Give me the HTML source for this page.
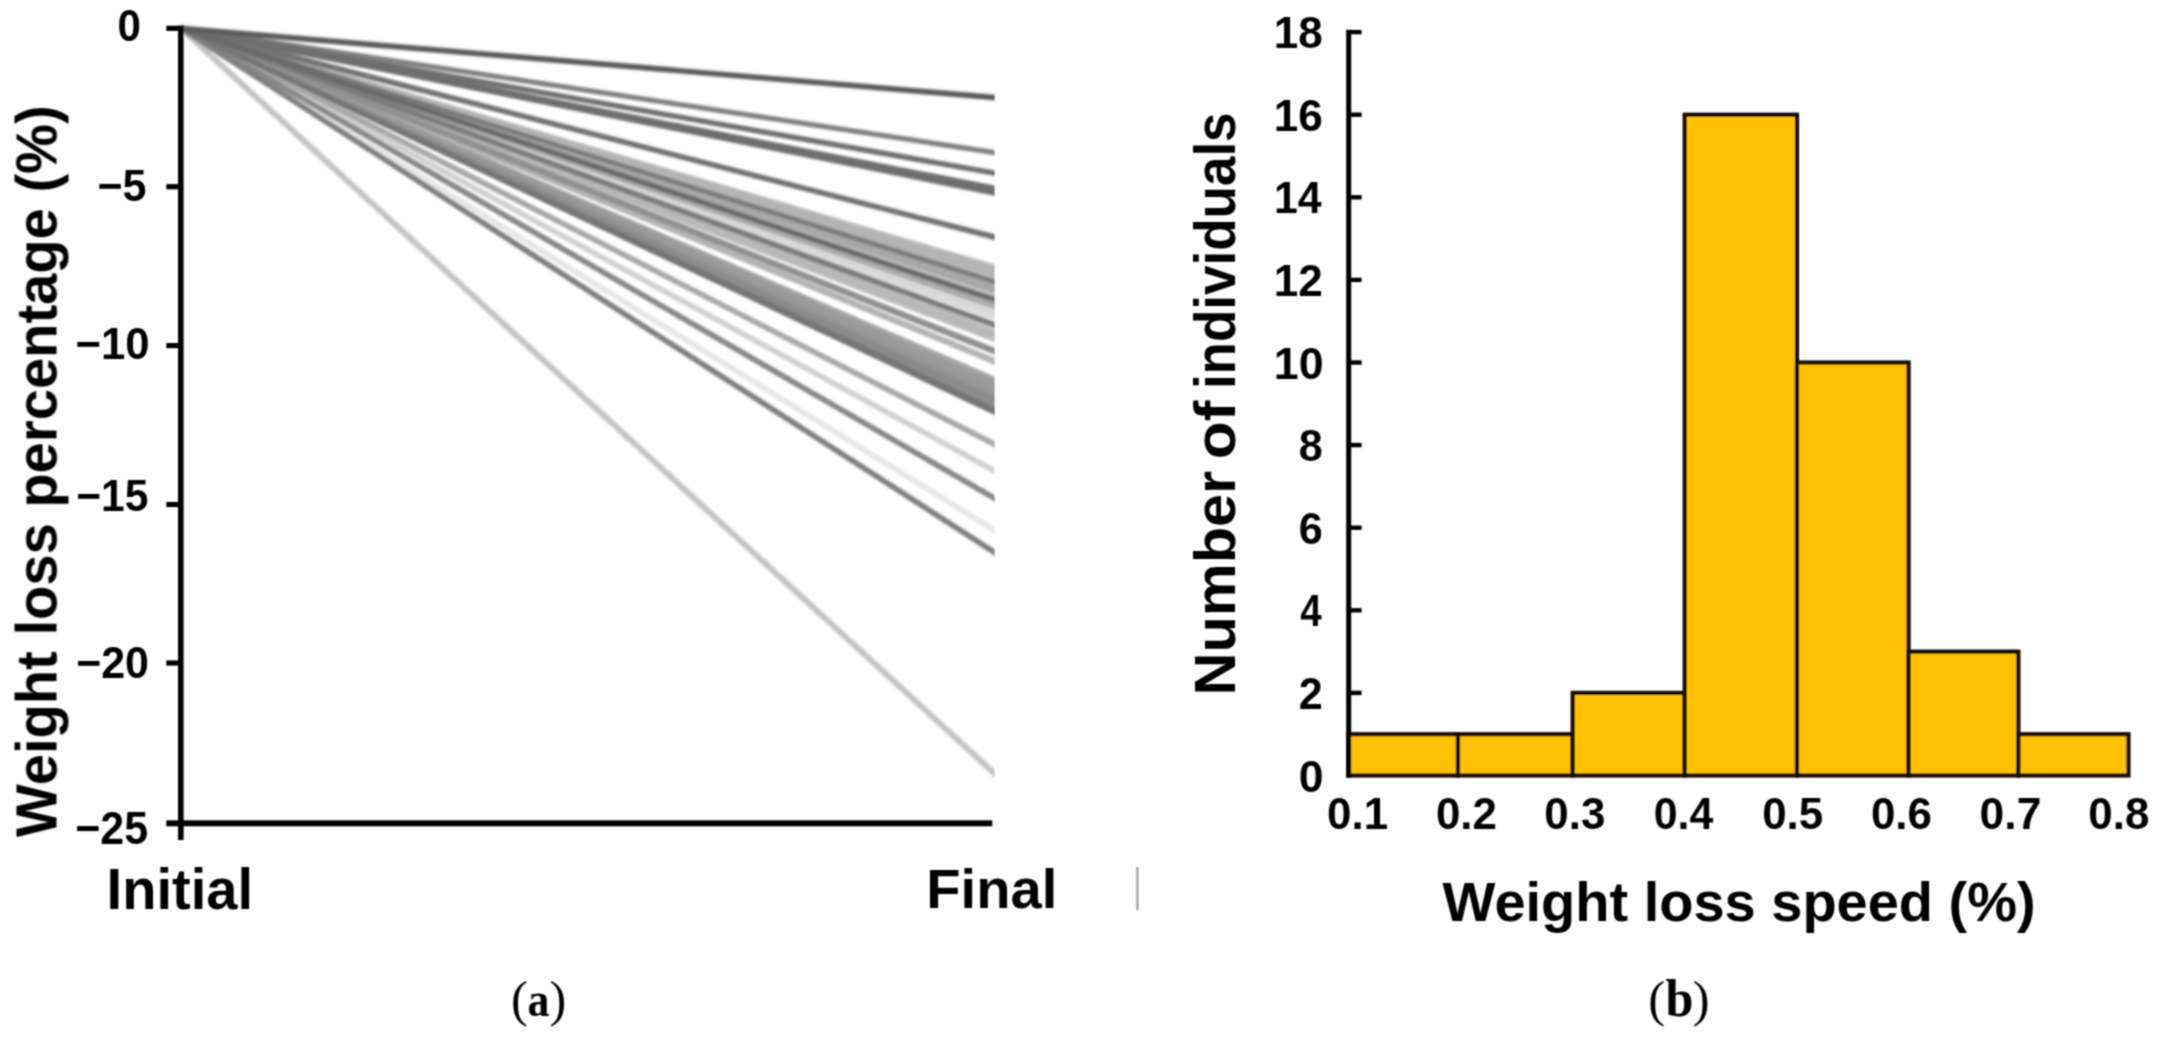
<!DOCTYPE html>
<html lang="en">
<head>
<meta charset="utf-8">
<title>Weight loss figure</title>
<style>
html,body{margin:0;padding:0;background:#fff;}
body{width:2162px;height:1042px;overflow:hidden;}
svg{display:block;}
svg text{font-family:"Liberation Sans",sans-serif;fill:#000;}
svg text.cap{font-family:"Liberation Serif",serif;}
</style>
</head>
<body>
<svg width="2162" height="1042" viewBox="0 0 2162 1042">
<defs><filter id="soft" x="0" y="0" width="2162" height="1042" filterUnits="userSpaceOnUse"><feConvolveMatrix order="3" kernelMatrix="1 2 1 2 4 2 1 2 1" divisor="16" edgeMode="duplicate" preserveAlpha="false"/></filter><filter id="fanblur" x="150" y="0" width="900" height="850" filterUnits="userSpaceOnUse"><feGaussianBlur stdDeviation="1"/></filter></defs>
<rect width="2162" height="1042" fill="#fff"/>
<g filter="url(#soft)">
<defs><clipPath id="fanclip"><rect x="170" y="0" width="824.6" height="900"/></clipPath></defs>
<g id="fan" clip-path="url(#fanclip)" filter="url(#fanblur)">
<line x1="181" y1="28.3" x2="1010" y2="539.87" stroke="#e6e6e6" stroke-width="5.7"/>
<line x1="181" y1="28.3" x2="1010" y2="322.68" stroke="#dcdcdc" stroke-width="6.5"/>
<line x1="181" y1="28.3" x2="1010" y2="317.07" stroke="#d8d8d8" stroke-width="6.5"/>
<line x1="181" y1="28.3" x2="1010" y2="479.2" stroke="#d0d0d0" stroke-width="5.7"/>
<line x1="181" y1="28.3" x2="1010" y2="299.53" stroke="#c4c4c4" stroke-width="4.5"/>
<line x1="181" y1="28.3" x2="1010" y2="787.66" stroke="#c4c4c4" stroke-width="6.1"/>
<line x1="181" y1="28.3" x2="1010" y2="337.47" stroke="#bcbcbc" stroke-width="5.5"/>
<line x1="181" y1="28.3" x2="1010" y2="345.11" stroke="#bcbcbc" stroke-width="5.5"/>
<line x1="181" y1="28.3" x2="1010" y2="271.7" stroke="#b8b8b8" stroke-width="5.5"/>
<line x1="181" y1="28.3" x2="1010" y2="341.55" stroke="#b8b8b8" stroke-width="5.5"/>
<line x1="181" y1="28.3" x2="1010" y2="275.78" stroke="#b4b4b4" stroke-width="5.5"/>
<line x1="181" y1="28.3" x2="1010" y2="280.36" stroke="#b4b4b4" stroke-width="5.5"/>
<line x1="181" y1="28.3" x2="1010" y2="367.55" stroke="#b4b4b4" stroke-width="6.5"/>
<line x1="181" y1="28.3" x2="1010" y2="310.96" stroke="#aaaaaa" stroke-width="6.5"/>
<line x1="181" y1="28.3" x2="1010" y2="290.87" stroke="#a8a8a8" stroke-width="5.5"/>
<line x1="181" y1="28.3" x2="1010" y2="295.46" stroke="#a8a8a8" stroke-width="5.5"/>
<line x1="181" y1="28.3" x2="1010" y2="452.18" stroke="#a8a8a8" stroke-width="5.7"/>
<line x1="181" y1="28.3" x2="1010" y2="386.41" stroke="#a4a4a4" stroke-width="5.7"/>
<line x1="181" y1="28.3" x2="1010" y2="412.41" stroke="#a0a0a0" stroke-width="4.5"/>
<line x1="181" y1="28.3" x2="1010" y2="391" stroke="#9c9c9c" stroke-width="5.7"/>
<line x1="181" y1="28.3" x2="1010" y2="395.59" stroke="#9a9a9a" stroke-width="5.7"/>
<line x1="181" y1="28.3" x2="1010" y2="400.18" stroke="#989898" stroke-width="5.7"/>
<line x1="181" y1="28.3" x2="1010" y2="357.35" stroke="#909090" stroke-width="6.5"/>
<line x1="181" y1="28.3" x2="1010" y2="404.77" stroke="#909090" stroke-width="5.7"/>
<line x1="181" y1="28.3" x2="1010" y2="408.84" stroke="#8a8a8a" stroke-width="5.5"/>
<line x1="181" y1="28.3" x2="1010" y2="507.24" stroke="#888888" stroke-width="5.7"/>
<line x1="181" y1="28.3" x2="1010" y2="154.94" stroke="#808080" stroke-width="5.3"/>
<line x1="181" y1="28.3" x2="1010" y2="562.31" stroke="#808080" stroke-width="5.7"/>
<line x1="181" y1="28.3" x2="1010" y2="330.53" stroke="#7c7c7c" stroke-width="5.9"/>
<line x1="181" y1="28.3" x2="1010" y2="415.98" stroke="#7c7c7c" stroke-width="5.1"/>
<line x1="181" y1="28.3" x2="1010" y2="286.28" stroke="#7a7a7a" stroke-width="4.9"/>
<line x1="181" y1="28.3" x2="1010" y2="419.55" stroke="#747474" stroke-width="5.1"/>
<line x1="181" y1="28.3" x2="1010" y2="241.11" stroke="#727272" stroke-width="5.7"/>
<line x1="181" y1="28.3" x2="1010" y2="175.85" stroke="#707070" stroke-width="5.5"/>
<line x1="181" y1="28.3" x2="1010" y2="196.04" stroke="#707070" stroke-width="5.7"/>
<line x1="181" y1="28.3" x2="1010" y2="191.45" stroke="#6e6e6e" stroke-width="5.7"/>
<line x1="181" y1="28.3" x2="1010" y2="304.84" stroke="#6a6a6a" stroke-width="5.7"/>
<line x1="181" y1="28.3" x2="1010" y2="98.86" stroke="#5c5c5c" stroke-width="5.7"/>
</g>
<g id="left-axes">
<rect x="178" y="25.6" width="5.6" height="814.4" fill="#000"/>
<rect x="166.3" y="820.3" width="826" height="6" fill="#000"/>
<rect x="166.3" y="25.7" width="13" height="5.2" fill="#000"/>
<rect x="166.3" y="184.1" width="13" height="5.2" fill="#000"/>
<rect x="166.3" y="343" width="13" height="5.2" fill="#000"/>
<rect x="166.3" y="501.9" width="13" height="5.2" fill="#000"/>
<rect x="166.3" y="660.4" width="13" height="5.2" fill="#000"/>
</g>
<rect x="1136.2" y="867" width="2.4" height="43" fill="#a4a4a4"/>
<g id="right-chart">
<rect x="1348.5" y="734.2" width="109.5" height="41.3" fill="#ffc000" stroke="#1a1000" stroke-width="4.2"/>
<rect x="1458" y="734.2" width="114.7" height="41.3" fill="#ffc000" stroke="#1a1000" stroke-width="4.2"/>
<rect x="1572.7" y="692.9" width="112" height="82.6" fill="#ffc000" stroke="#1a1000" stroke-width="4.2"/>
<rect x="1684.7" y="114.7" width="112.3" height="660.8" fill="#ffc000" stroke="#1a1000" stroke-width="4.2"/>
<rect x="1797" y="362.5" width="111.6" height="413" fill="#ffc000" stroke="#1a1000" stroke-width="4.2"/>
<rect x="1908.6" y="651.6" width="109.8" height="123.9" fill="#ffc000" stroke="#1a1000" stroke-width="4.2"/>
<rect x="2018.4" y="734.2" width="110.1" height="41.3" fill="#ffc000" stroke="#1a1000" stroke-width="4.2"/>
<rect x="1346.2" y="29.8" width="5" height="748" fill="#000"/>
<rect x="1350" y="690.7" width="11.6" height="4.4" fill="#000"/>
<rect x="1350" y="608.1" width="11.6" height="4.4" fill="#000"/>
<rect x="1350" y="525.5" width="11.6" height="4.4" fill="#000"/>
<rect x="1350" y="442.9" width="11.6" height="4.4" fill="#000"/>
<rect x="1350" y="360.3" width="11.6" height="4.4" fill="#000"/>
<rect x="1350" y="277.7" width="11.6" height="4.4" fill="#000"/>
<rect x="1350" y="195.1" width="11.6" height="4.4" fill="#000"/>
<rect x="1350" y="112.5" width="11.6" height="4.4" fill="#000"/>
<rect x="1350" y="29.9" width="11.6" height="4.4" fill="#000"/>
</g>
<g id="labels">
<text transform="translate(117.48 40.5) scale(0.9464 1)" font-size="44.5" font-weight="bold">0</text>
<text transform="translate(97.45 200.6) scale(0.9681 1)" font-size="44.5" font-weight="bold">−5</text>
<text transform="translate(75.43 358.5) scale(0.9821 1)" font-size="44.5" font-weight="bold">−10</text>
<text transform="translate(76.17 510.8) scale(0.9563 1)" font-size="44.5" font-weight="bold">−15</text>
<text transform="translate(76.16 677.5) scale(0.9655 1)" font-size="44.5" font-weight="bold">−20</text>
<text transform="translate(75.26 844.3) scale(0.9646 1.03)" font-size="44.5" font-weight="bold">−25</text>
<text transform="translate(106.59 909) scale(0.9931 1)" font-size="56.5" font-weight="bold">Initial</text>
<text transform="translate(926.29 908.3) scale(1.0027 1)" font-size="56" font-weight="bold">Final</text>
<text transform="translate(56.5 837.2) rotate(-90) scale(0.9797 1)" font-size="57.3" font-weight="bold">Weight loss percentage (%)</text>
<text transform="translate(1235 695.52) rotate(-90) scale(1.0473 1)" font-size="56.8" font-weight="bold">Number</text>
<text transform="translate(1235 459.24) rotate(-90) scale(1.0926 1)" font-size="56.8" font-weight="bold">of</text>
<text transform="translate(1235 389.11) rotate(-90) scale(0.9329 1)" font-size="56.8" font-weight="bold">individuals</text>
<text transform="translate(1442.6 921) scale(1.0071 1)" font-size="55.6" font-weight="bold">Weight loss speed (%)</text>
<text transform="translate(1298.81 791.5) scale(1.0021 1)" font-size="44.5" font-weight="bold">0</text>
<text transform="translate(1298.85 708.9) scale(0.9708 1)" font-size="44.5" font-weight="bold">2</text>
<text transform="translate(1300.2 626.3) scale(0.8629 1)" font-size="44.5" font-weight="bold">4</text>
<text transform="translate(1298.85 543.7) scale(0.9708 1)" font-size="44.5" font-weight="bold">6</text>
<text transform="translate(1298.85 461.1) scale(0.9708 1)" font-size="44.5" font-weight="bold">8</text>
<text transform="translate(1273.8 378.5) scale(1.0064 1)" font-size="44.5" font-weight="bold">10</text>
<text transform="translate(1273.84 295.9) scale(0.9911 1)" font-size="44.5" font-weight="bold">12</text>
<text transform="translate(1273.93 213.3) scale(0.9617 1)" font-size="44.5" font-weight="bold">14</text>
<text transform="translate(1273.84 130.7) scale(0.9911 1)" font-size="44.5" font-weight="bold">16</text>
<text transform="translate(1273.84 48.1) scale(0.9911 1)" font-size="44.5" font-weight="bold">18</text>
<text transform="translate(1327.03 829) scale(0.9872 1)" font-size="44.5" font-weight="bold">0.1</text>
<text transform="translate(1435.93 829) scale(0.9872 1)" font-size="44.5" font-weight="bold">0.2</text>
<text transform="translate(1544.33 829) scale(0.9872 1)" font-size="44.5" font-weight="bold">0.3</text>
<text transform="translate(1653.66 829) scale(0.9646 1)" font-size="44.5" font-weight="bold">0.4</text>
<text transform="translate(1762.13 829) scale(0.9872 1)" font-size="44.5" font-weight="bold">0.5</text>
<text transform="translate(1870.93 829) scale(0.9872 1)" font-size="44.5" font-weight="bold">0.6</text>
<text transform="translate(1979.61 829) scale(0.9989 1)" font-size="44.5" font-weight="bold">0.7</text>
<text transform="translate(2088.33 829) scale(0.9872 1)" font-size="44.5" font-weight="bold">0.8</text>
</g>
<g id="captions">
<text class="cap" x="511.02" y="1016.2" font-size="50.5">(</text>
<text class="cap" transform="translate(527.53 1016.2) scale(0.8878 1)" font-size="49.5" font-weight="bold">a</text>
<text class="cap" x="549.61" y="1016.2" font-size="50.5">)</text>
<text class="cap" x="1648.32" y="1016.2" font-size="50.5">(</text>
<text class="cap" transform="translate(1665.4 1016.2) scale(0.9568 1)" font-size="52.5" font-weight="bold">b</text>
<text class="cap" x="1692.71" y="1016.2" font-size="50.5">)</text>
</g>
</g>
</svg>
</body>
</html>
